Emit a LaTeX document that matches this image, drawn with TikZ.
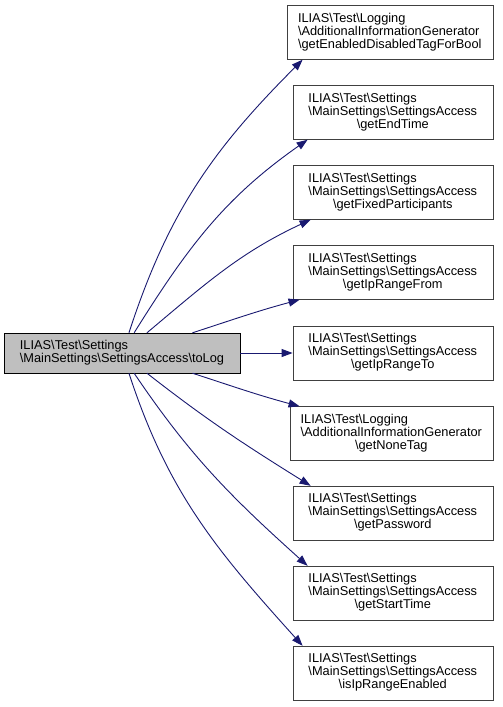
\documentclass[tikz,border=0pt]{standalone}
\usepackage{fontspec}
\setmainfont{Liberation Sans}
\usepackage{xcolor}
\usepackage{tikz}
\usetikzlibrary{positioning, calc, arrows.meta}
\definecolor{EdgeBlue}{RGB}{25,25,112}
\definecolor{SrcGray}{RGB}{191,191,191}
\tikzset{
    srcnode/.style={
        draw=black, fill=SrcGray, minimum width=236pt, minimum height=40pt,
        inner sep=0pt, font=\fontsize{12.8}{13}\selectfont
    },
    fnnode/.style={
        draw=black!75, fill=white, minimum width=200pt, minimum height=54pt,
        inner sep=0pt, anchor=east, font=\fontsize{12.8}{13}\selectfont
    },
    call/.style={
        -{Triangle[length=11pt, width=8pt]}, EdgeBlue, line width=0.9pt
    }
}
\newcommand{\fnlabel}[3]{\begin{tabular}{@{}l@{}}#1\\#2\\\multicolumn{1}{@{}c@{}}{#3}\end{tabular}}

\begin{document}
\begin{tikzpicture}[x=1pt, y=-1pt]
                \useasboundingbox (0,0) rectangle (503,707);
                \node[srcnode] (src) at (122,353) {\begin{tabular}{@{}l@{}}ILIAS\textbackslash Test\textbackslash Settings\\\textbackslash MainSettings\textbackslash SettingsAccess\textbackslash toLog\end{tabular}};
                \node[fnnode, minimum width=206pt] (t1) at (493,32.5) {\fnlabel{ILIAS\textbackslash Test\textbackslash Logging}{\textbackslash AdditionalInformationGenerator}{\textbackslash getEnabledDisabledTagForBool}};
                \node[fnnode] (t2) at (493,112.5) {\fnlabel{ILIAS\textbackslash Test\textbackslash Settings}{\textbackslash MainSettings\textbackslash SettingsAccess}{\textbackslash getEndTime}};
                \node[fnnode] (t3) at (493,192.5) {\fnlabel{ILIAS\textbackslash Test\textbackslash Settings}{\textbackslash MainSettings\textbackslash SettingsAccess}{\textbackslash getFixedParticipants}};
                \node[fnnode] (t4) at (493,272.5) {\fnlabel{ILIAS\textbackslash Test\textbackslash Settings}{\textbackslash MainSettings\textbackslash SettingsAccess}{\textbackslash getIpRangeFrom}};
                \node[fnnode] (t5) at (493,353) {\fnlabel{ILIAS\textbackslash Test\textbackslash Settings}{\textbackslash MainSettings\textbackslash SettingsAccess}{\textbackslash getIpRangeTo}};
                \node[fnnode, minimum width=203pt] (t6) at (493,433.5) {\fnlabel{ILIAS\textbackslash Test\textbackslash Logging}{\textbackslash AdditionalInformationGenerator}{\textbackslash getNoneTag}};
                \node[fnnode] (t7) at (493,513) {\fnlabel{ILIAS\textbackslash Test\textbackslash Settings}{\textbackslash MainSettings\textbackslash SettingsAccess}{\textbackslash getPassword}};
                \node[fnnode] (t8) at (493,593) {\fnlabel{ILIAS\textbackslash Test\textbackslash Settings}{\textbackslash MainSettings\textbackslash SettingsAccess}{\textbackslash getStartTime}};
                \node[fnnode] (t9) at (493,673) {\fnlabel{ILIAS\textbackslash Test\textbackslash Settings}{\textbackslash MainSettings\textbackslash SettingsAccess}{\textbackslash isIpRangeEnabled}};
                % calls from toLog
                \draw[call] (src.71) to[out=72, in=225] ([xshift=16pt]t1.south west);
                \draw[call] (src.59) to[out=58, in=215] ([xshift=15pt]t2.south west);
                \draw[call] (src.39) to[out=40, in=205] ([xshift=18pt]t3.south west);
                \draw[call] (src.16) to[out=18, in=195] ([xshift=7pt]t4.south west);
                \draw[call] (src.east) -- (t5.west);
                \draw[call] (src.-16) to[out=-18, in=165] ([xshift=10pt]t6.north west);
                \draw[call] (src.-39) to[out=-38, in=148] ([xshift=18pt]t7.north west);
                \draw[call] (src.-59) to[out=-56, in=138] ([xshift=15pt]t8.north west);
                \draw[call] (src.-71) to[out=-72, in=132] ([xshift=10pt]t9.north west);
            \end{tikzpicture}
\end{document}
